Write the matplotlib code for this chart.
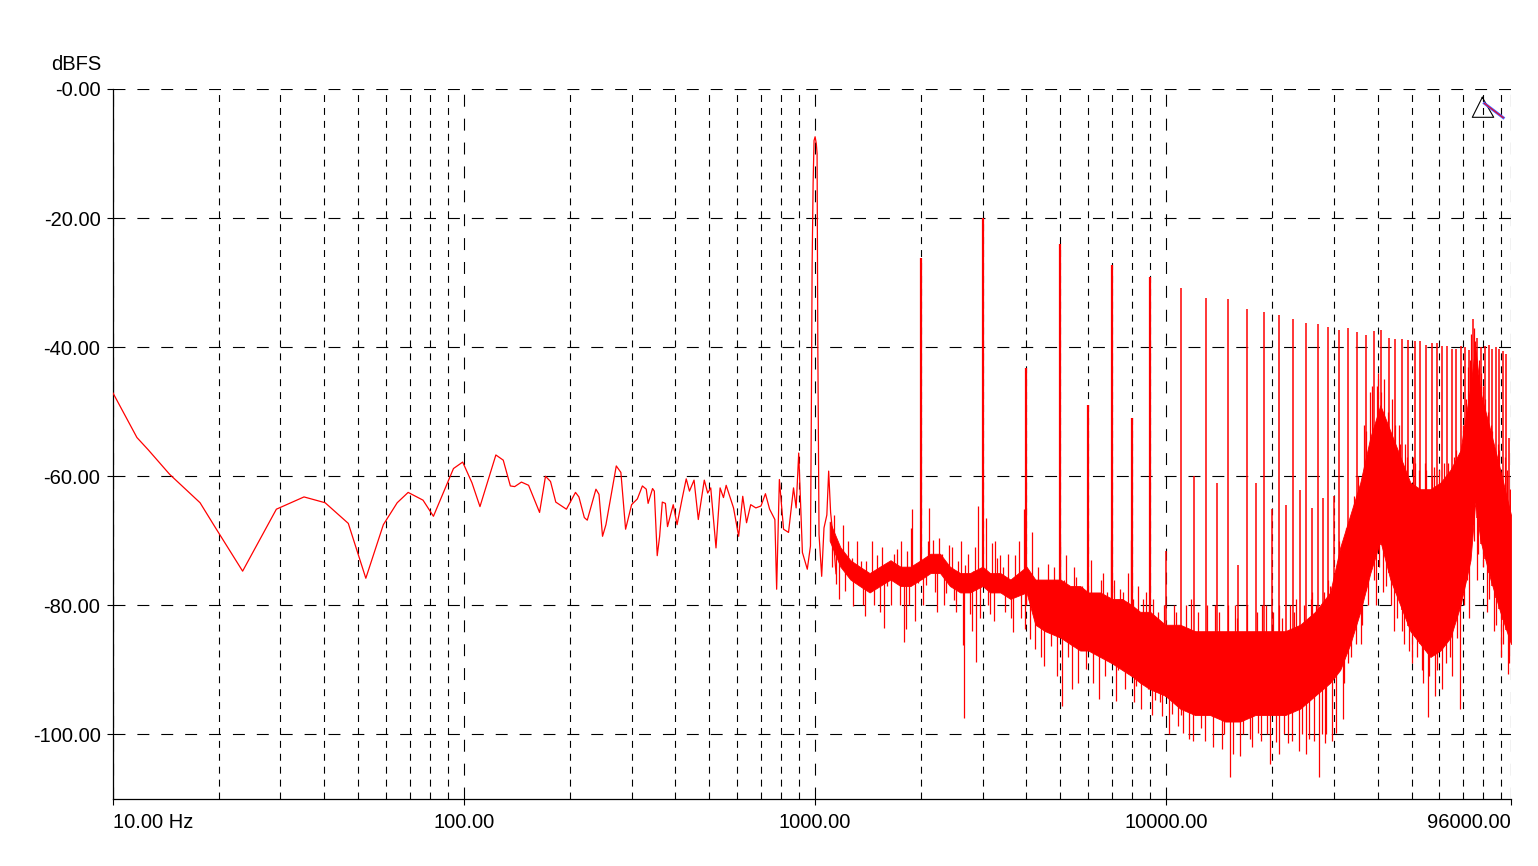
import numpy as np
import matplotlib
matplotlib.use('Agg')
import matplotlib.pyplot as plt
from matplotlib.lines import Line2D
from matplotlib.ticker import FixedLocator, NullFormatter

plt.rcParams['font.family'] = ['Liberation Sans', 'DejaVu Sans']
plt.rcParams['lines.scale_dashes'] = False

# ---------------- data ----------------
# low-frequency trace (Hz, dBFS), including the 1 kHz fundamental
low_f = [10, 11.7, 12.6, 14.5, 17.7, 19.7, 23.4, 29.2, 35.0, 40.2,
         46.8, 52.5, 58.9, 64.5, 69.3, 76.4, 81.8, 93.3, 99.1, 105.3,
         111.0, 123.2, 129.3, 135.5, 139.4, 145.7, 152.7, 164.1, 170.6, 176.3,
         182.5, 195.7, 207.7, 212.4, 220.1, 224.4, 237.5, 242.3, 248.0, 253.6,
         271.4, 279.7, 288.5, 300.1, 311.7, 322.1, 330.4, 334.4, 344.3, 348.3,
         355.0, 360.7, 367.0, 374.6, 379.8, 394.3, 404.4, 417.6, 429.4, 438.6,
         452.0, 464.8, 483.4, 494.3, 504.3, 522.0, 536.2, 548.2, 558.0, 585.6,
         605.6, 622.1, 637.8, 655.4, 677.9, 701.2, 722.0, 742.0, 768.0, 777.0,
         791.0, 813.0, 840.0, 868.0, 883.0, 898.0, 920.0, 950.0, 970.0, 976.0,
         980.5, 987.0, 993.0, 1000.0, 1008.0, 1013.0, 1018.0, 1026.0, 1044.0, 1060.0,
         1080.0, 1093.0, 1107.0, 1126.0, 1147.0]
low_db = [-47.1, -54.0, -55.9, -59.7, -64.1, -68.2, -74.7, -65.1, -63.2, -64.1,
          -67.3, -75.8, -67.5, -64.1, -62.5, -63.7, -66.2, -58.8, -57.8, -61.0,
          -64.7, -56.7, -57.5, -61.5, -61.6, -60.9, -61.4, -65.6, -60.0, -60.8,
          -64.0, -65.1, -62.5, -63.2, -66.4, -66.8, -62.0, -62.8, -69.3, -67.5,
          -58.4, -59.4, -68.2, -64.4, -63.5, -61.5, -62.0, -64.2, -61.9, -62.3,
          -72.3, -69.3, -64.0, -64.2, -67.8, -64.4, -67.5, -63.6, -60.4, -62.3,
          -60.6, -66.7, -60.6, -62.6, -61.8, -71.1, -61.8, -63.3, -61.4, -64.9,
          -69.3, -63.1, -67.2, -64.4, -64.9, -64.6, -62.7, -65.1, -66.7, -77.5,
          -60.5, -68.2, -68.7, -61.8, -64.9, -56.4, -71.8, -74.4, -70.8, -48.6,
          -27.5, -14.6, -8.0, -7.4, -8.5, -10.0, -40.0, -69.0, -75.5, -68.0,
          -66.0, -59.2, -65.6, -69.6, -75.1]

# dense noise floor above ~1.1 kHz: core band (top / bottom)
band_f = [1100, 1180, 1260, 1340, 1430, 1530, 1640, 1750, 1870, 2000,
          2130, 2270, 2420, 2590, 2760, 3000, 3150, 3370, 3600, 4000,
          4240, 4520, 5000, 5330, 5690, 6000, 6490, 7020, 7490, 8000,
          8430, 9000, 9940, 10960, 12090, 13350, 14730, 16250, 17930, 19780,
          21830, 24090, 26570, 29320, 31320, 33450, 35720, 38150, 40740, 43510,
          46470, 49620, 52980, 56580, 60420, 64530, 68910, 73600, 75920, 78600,
          83940, 89440, 96000]
band_top = [-67, -71, -73, -74, -75, -74, -73, -74, -74, -73,
            -72, -72, -74, -75, -75, -74, -75, -75, -76, -74,
            -76, -76, -76, -77, -77, -78, -78, -79, -79, -80,
            -81, -81, -83, -83, -84, -84, -84, -84, -84, -84,
            -84, -83, -81, -78, -71, -66, -61, -54, -49, -53,
            -57, -61, -62, -62, -61, -59, -56, -46, -40, -47,
            -53, -59, -66]
band_bot = [-70, -74, -76, -77, -78, -77, -76, -77, -77, -76,
            -75, -75, -77, -78, -78, -77, -78, -78, -79, -78,
            -83, -84, -85, -86, -87, -87, -88, -89, -90, -91,
            -92, -93, -94, -96, -97, -97, -98, -98, -97, -97,
            -97, -96, -94, -92, -90, -86, -81, -75, -70, -76,
            -80, -84, -86, -88, -87, -85, -80, -73, -64, -70,
            -76, -81, -86]

# harmonic lines (Hz, dBFS)
harm_f = [2000, 3000, 4000, 5000, 6000, 7000, 8000, 9000, 10000, 11000,
          12000, 13000, 14000, 15000, 16000, 17000, 18000, 19000, 20000, 21000,
          22000, 23000, 24000, 25000, 26000, 27000, 28000, 29000, 30000,
          31000, 33000, 35000, 37000, 39000, 41000, 43000, 45000, 47000, 49000,
          51000, 53000, 55000, 57000, 59000, 61000, 63000, 65000, 67000, 69000,
          71000, 73000, 75000, 77000, 79000, 81000, 83000, 85000, 87000, 89000,
          91000, 93000, 95000]
harm_db = [-26.2, -20.0, -43.2, -24.0, -48.9, -27.2, -50.9, -29.1, -71.6, -30.8,
           -60.0, -32.4, -61.1, -32.6, -73.8, -34.1, -61.1, -34.6, -65.0, -35.0,
           -64.5, -35.7, -62.1, -36.3, -64.9, -36.4, -63.3, -36.8, -63.0,
           -37.3, -37.0, -37.7, -38.1, -37.5, -37.3, -38.6, -38.7, -38.7, -38.9,
           -39.0, -39.0, -39.6, -39.4, -39.3, -39.8, -39.8, -40.3, -40.3, -39.8,
           -40.0, -40.5, -35.7, -38.5, -40.0, -39.8, -39.6, -40.3, -40.0, -40.3,
           -40.6, -41.0, -54.0]

# individual noise excursions out of the core band (Hz, dBFS)
spike_f = [1120, 1150, 1200, 1220, 1270, 1280, 1350, 1390, 1400, 1500,
           1570, 1600, 1710, 1790, 1820, 1830, 1890, 1930, 1960, 2070,
           2110, 2160, 2220, 2260, 2360, 2410, 2480, 2550, 2630, 2650,
           2670, 2760, 2820, 2880, 2910, 3070, 3150, 3200, 3230, 3300,
           3370, 3480, 3670, 3720, 3930, 3970, 4100, 4150, 4240, 4500,
           4600, 4700, 4970, 5050, 5180, 5400, 5550, 5900, 6260, 6440,
           6600, 6950, 7200, 7400, 7700, 7950, 8200, 8780, 8870, 9300,
           9700, 10400, 10500, 10800, 11200, 11600, 11800, 12900, 13800, 14400,
           15200, 15700, 16200, 17300, 18300, 18800, 19700, 20600, 21000, 22200,
           23500, 23900, 25600, 26000, 27300, 28300, 28900, 30400, 31900, 33000,
           36000, 39500, 41500, 44500, 47500, 50000, 54000, 55800, 58500, 61200,
           65000, 68900, 73000, 77000, 82000, 86000, 90000, 94200,
           36500, 38500, 40000, 41800, 44000, 46000, 48000, 50500, 54500, 58000,
           62000, 66000, 70000, 72500, 74000, 76000, 78000, 80000, 82500, 85000,
           88000, 92000, 95500]
spike_db = [-74.1, -76.7, -67.6, -77.7, -72.6, -80.1, -73.1, -81.7, -73.1, -72.2,
            -83.5, -77.0, -71.3, -85.7, -83.7, -71.6, -65.1, -82.4, -76.5, -76.9,
            -64.9, -69.9, -81.1, -69.6, -78.1, -70.7, -79.1, -73.2, -86.2, -97.4,
            -73.7, -81.4, -74.6, -88.7, -64.6, -66.4, -81.4, -70.3, -82.4, -72.6,
            -72.2, -81.1, -84.2, -72.2, -65.1, -83.7, -85.2, -68.7, -86.8, -89.4,
            -73.6, -86.3, -70.0, -95.6, -72.2, -93.0, -75.6, -89.9, -78.8, -94.5,
            -75.0, -69.8, -94.8, -77.5, -86.4, -69.8, -92.5, -78.0, -93.0, -94.7,
            -97.1, -96.9, -80.0, -98.7, -99.7, -100.7, -79.0, -101.0, -80.0, -102.3,
            -106.6, -80.0, -103.3, -100.7, -99.7, -80.0, -104.6, -101.1, -80.0, -101.4,
            -79.0, -102.5, -100.7, -78.0, -106.6, -101.4, -76.0, -99.7, -97.6, -89.0,
            -86.0, -80.0, -78.0, -84.0, -86.0, -89.0, -92.0, -97.3, -94.0, -93.0,
            -91.0, -96.0, -82.0, -76.0, -81.0, -84.0, -88.0, -90.7,
            -52.0, -46.0, -44.0, -45.0, -48.0, -52.0, -55.0, -57.0, -58.0, -58.5,
            -58.0, -57.0, -52.0, -43.0, -38.0, -39.0, -42.0, -46.0, -50.0, -53.0,
            -55.0, -57.0, -62.0]

# further, smaller excursions (Hz, dBFS)
spike2_f = [1130, 1170, 1240, 1300, 1320, 1370, 1450, 1470, 1530, 1550,
            1650, 1680, 1740, 1760, 1850, 1870, 2030, 2090, 2190, 2300,
            2330, 2450, 2520, 2600, 2720, 2790, 2850, 2950, 3100, 3260,
            3420, 3550, 3620, 3800, 3850, 4000,
            4050, 4320, 4400, 4650, 4800, 4880, 5120, 5250, 5480, 5620,
            5750, 5820, 6100, 6180, 6350, 6520, 6700, 6800, 7100, 7300,
            7550, 7620, 7800, 8050, 8100, 8300, 8500, 8600, 8950, 9100,
            9200, 9450, 9600, 9850,
            10200, 10650, 11000, 11400, 11900, 12300, 12600, 13100, 13600, 14100,
            14600, 15000, 15500, 15900, 16600, 17000, 17600, 18100, 18600, 19200,
            19400, 20200, 20900, 21400, 21700, 22600, 22900, 23200, 24400, 24700,
            25100, 25900, 26300, 26800, 27700, 28100, 28600, 29200, 29700, 30100,
            31000, 32000, 32600, 33600, 34200, 34800, 35300, 36200, 37000, 37600,
            38000, 39000, 39800, 40400, 41000, 42200, 42800, 43800, 44800, 45500,
            46400, 47000, 48600, 49300, 51000, 51800, 52600, 53500, 55000, 56200,
            57200, 59000, 60000, 62600, 63500, 64400, 66800, 67500, 69500, 70500,
            71500, 72000, 73200, 75200, 75500, 77500, 79000, 79800, 81000, 83000,
            84000, 87000, 89000, 91000, 93500, 95000]
spike2_db = [-66, -79, -70, -76, -70, -80, -70, -80, -81, -71,
             -80, -72, -80, -70, -80, -68, -80, -70, -78, -72,
             -80, -71, -81, -70, -72, -84, -71, -82, -80, -70,
             -74, -72, -82, -70, -82, -80,
             -78, -74, -88, -79, -74, -91, -76, -88, -74, -92,
             -77, -86, -73, -92, -80, -76, -91, -78, -76, -90,
             -78, -93, -75, -79, -95, -77, -96, -79, -80, -97,
             -79, -81, -95, -80,
             -100, -81, -97, -80, -101, -81, -99, -80, -102, -81,
             -100, -80, -103, -82, -100, -80, -102, -81, -101, -80,
             -100, -81, -103, -82, -100, -80, -101, -81, -100, -80,
             -103, -79, -101, -80, -100, -78, -100, -77, -101, -76,
             -70, -92, -68, -88, -63, -86, -60, -83, -53, -80,
             -47, -76, -46, -74, -47, -77, -50, -80, -52, -82,
             -55, -84, -57, -87, -58, -88, -59, -90, -59, -91,
             -60, -90, -59, -89, -58, -88, -56, -85, -55, -80,
             -48, -76, -42, -70, -37, -72, -44, -74, -48, -79,
             -52, -83, -56, -86, -59, -89]

x_major = [10, 100, 1000, 10000, 96000]
x_major_labels = ['10.00 Hz', '100.00', '1000.00', '10000.00', '96000.00']
x_minor = [m * d for d in (10, 100, 1000, 10000) for m in range(2, 10)]
y_ticks = [0, -20, -40, -60, -80, -100]
y_labels = ['-0.00', '-20.00', '-40.00', '-60.00', '-80.00', '-100.00']

# ---------------- figure ----------------
W, H = 1538, 866
fig = plt.figure(figsize=(W / 100, H / 100), dpi=100)
L, R, T, B = 113, 1511, 89, 799
ax = fig.add_axes([L / W, 1 - B / H, (R - L) / W, (B - T) / H])
ax.set_xscale('log')
ax.set_xlim(10, 96000)
ax.set_ylim(-110, 0)

RED = '#ff0000'

ax.plot(low_f, low_db, color=RED, lw=0.9, zorder=3)

bf = np.array(band_f, float)
bt = np.array(band_top, float)
bb = np.array(band_bot, float)
ax.fill_between(bf, bt, bb, color=RED, lw=0.6, edgecolor=RED, zorder=3)

lbf = np.log10(bf)
mid = (bt + bb) / 2.0
for fs, ds in ((spike_f, spike_db), (spike2_f, spike2_db)):
    sf = np.array(fs, float)
    ax.vlines(sf, np.interp(np.log10(sf), lbf, mid), ds, color=RED, lw=0.9, zorder=3)

hf = np.array(harm_f, float)
hd = np.array(harm_db, float)
hbase = np.interp(np.log10(hf), lbf, bb)
low_h = hf < 9500
ax.vlines(hf[low_h], hbase[low_h], hd[low_h], color=RED, lw=1.6, zorder=3)
ax.vlines(hf[~low_h], hbase[~low_h], hd[~low_h], color=RED, lw=1.1, zorder=3)

# axes styling
for s in ('top', 'right'):
    ax.spines[s].set_visible(False)
for s in ('left', 'bottom'):
    ax.spines[s].set_linewidth(0.9)
    ax.spines[s].set_color('black')

ax.xaxis.set_major_locator(FixedLocator(x_major))
ax.xaxis.set_minor_locator(FixedLocator(x_minor))
ax.xaxis.set_minor_formatter(NullFormatter())
ax.set_xticks(x_major, x_major_labels)
ax.set_yticks(y_ticks, y_labels)

ax.tick_params(axis='both', which='major', length=4, width=0.8, direction='out',
               labelsize=14.5, colors='black')
ax.tick_params(axis='x', which='major', pad=6)
ax.tick_params(axis='y', which='major', pad=5)
ax.tick_params(axis='x', which='minor', length=0)

ticks = ax.xaxis.get_major_ticks()
ticks[0].label1.set_horizontalalignment('left')
ticks[-1].label1.set_horizontalalignment('right')

ax.grid(True, which='major', axis='both', color='black', lw=0.8,
        linestyle=(0, (8.6, 8.6)), zorder=1)
ax.grid(True, which='minor', axis='x', color='black', lw=0.8,
        linestyle=(0, (5.0, 4.3)), zorder=1)
ax.set_axisbelow(True)

fig.text(101 / W, 1 - 65 / H, 'dBFS', ha='right', va='center', fontsize=14.5)

# small marker icon in the top right corner
def px(x, y):
    return x / W, 1 - y / H
tri = [px(1482.3, 97.3), px(1472.3, 117.3), px(1493.7, 117.3), px(1482.3, 97.3)]
fig.add_artist(Line2D([p[0] for p in tri], [p[1] for p in tri], color='black', lw=0.8))
d0, d1 = px(1484.3, 103.3), px(1503.3, 117.7)
fig.add_artist(Line2D([d0[0], d1[0]], [d0[1], d1[1]], color='#4a5cff', lw=2.0))
fig.add_artist(Line2D([d0[0], d1[0]], [d0[1], d1[1]], color=RED, lw=0.7))

fig.savefig('out.png', dpi=100, facecolor='white')
